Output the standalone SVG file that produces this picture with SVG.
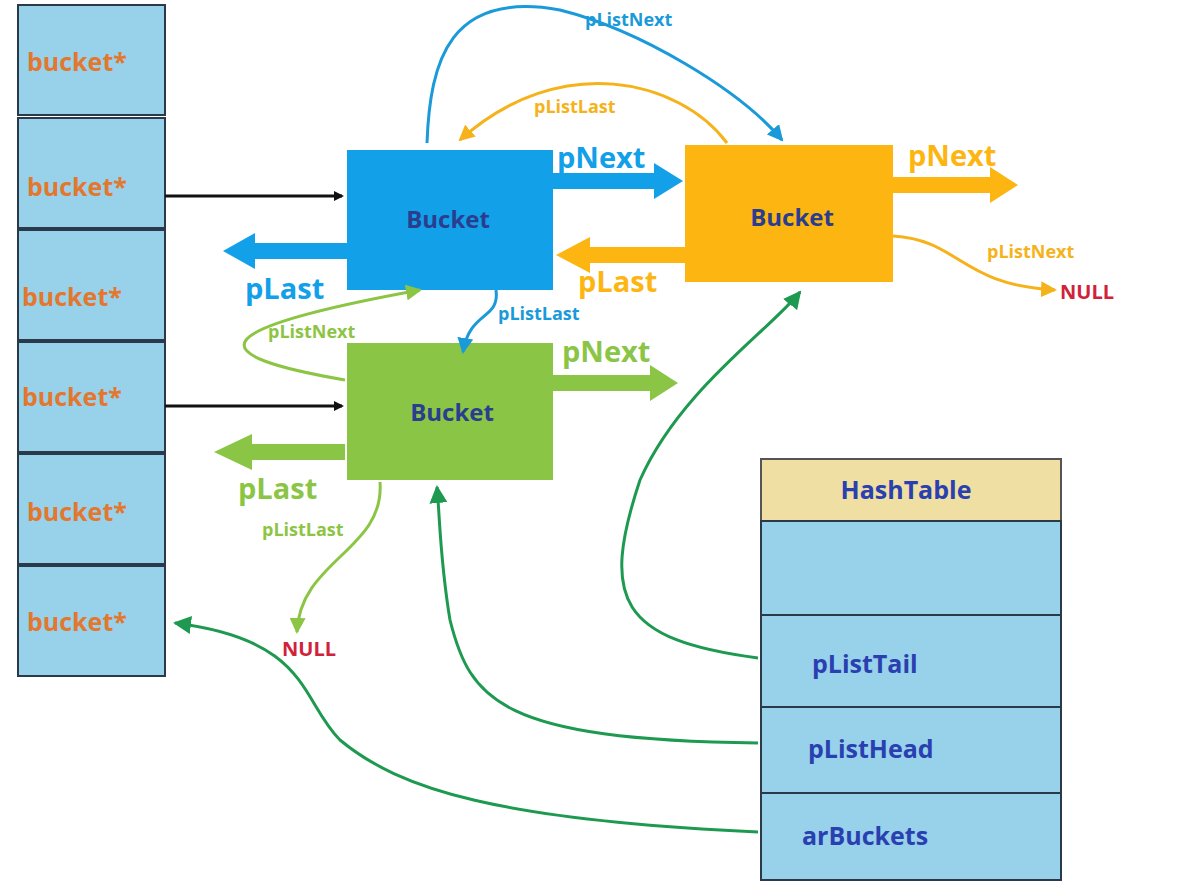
<svg xmlns="http://www.w3.org/2000/svg" width="1177" height="892" viewBox="0 0 1177 892">
<style>
.cell{fill:#97d1ea;stroke:#2a3a4a;stroke-width:2}
.bl{font-family:"Open Sans","Liberation Sans",sans-serif;font-weight:bold;font-size:25px;fill:#e4772e}
.bk{font-family:"Open Sans","Liberation Sans",sans-serif;font-weight:bold;font-size:24px;fill:#2a3d8f;text-anchor:middle}
.ht{font-family:"Open Sans","Liberation Sans",sans-serif;font-weight:bold;font-size:25px;fill:#2a3fb0}
.big{font-family:"Open Sans","Liberation Sans",sans-serif;font-weight:bold;font-size:29px}
.sm{font-family:"Open Sans","Liberation Sans",sans-serif;font-weight:bold;font-size:18px}
.nul{font-family:"Open Sans","Liberation Sans",sans-serif;font-weight:bold;font-size:20px;fill:#d0223a}
.ln{fill:none;stroke-width:3}
</style>
<defs>
<marker id="ab" markerWidth="10" markerHeight="10" refX="8" refY="5" orient="auto" markerUnits="userSpaceOnUse" viewBox="0 0 10 10"><path d="M0,0L10,5L0,10z" fill="#111"/></marker>
<marker id="ablue" markerWidth="16" markerHeight="16" refX="14" refY="8" orient="auto" markerUnits="userSpaceOnUse" viewBox="0 0 16 16"><path d="M0,0L16,8L0,16z" fill="#1a9ad8"/></marker>
<marker id="aor" markerWidth="16" markerHeight="16" refX="14" refY="8" orient="auto" markerUnits="userSpaceOnUse" viewBox="0 0 16 16"><path d="M0,0L16,8L0,16z" fill="#f5b21a"/></marker>
<marker id="agr" markerWidth="16" markerHeight="16" refX="14" refY="8" orient="auto" markerUnits="userSpaceOnUse" viewBox="0 0 16 16"><path d="M0,0L16,8L0,16z" fill="#8cc444"/></marker>
<marker id="adg" markerWidth="18" markerHeight="18" refX="16" refY="9" orient="auto" markerUnits="userSpaceOnUse" viewBox="0 0 18 18"><path d="M0,0L18,9L0,18z" fill="#1e9a50"/></marker>
</defs>
<rect width="1177" height="892" fill="#fff"/>

<g id="bucket-array">
<rect class="cell" x="18" y="5" width="147" height="110"/>
<rect class="cell" x="18" y="118" width="147" height="110"/>
<rect class="cell" x="18" y="230" width="147" height="110"/>
<rect class="cell" x="18" y="342" width="147" height="110"/>
<rect class="cell" x="18" y="454" width="147" height="110"/>
<rect class="cell" x="18" y="566" width="147" height="110"/>
<text class="bl" x="27" y="71">bucket*</text>
<text class="bl" x="27" y="196">bucket*</text>
<text class="bl" x="22" y="306">bucket*</text>
<text class="bl" x="22" y="406">bucket*</text>
<text class="bl" x="27" y="521">bucket*</text>
<text class="bl" x="27" y="631">bucket*</text>
</g>

<g id="bucket-blue"><rect x="347" y="150" width="206" height="140" fill="#12a0e8"/><text class="bk" x="448" y="228">Bucket</text></g>
<g id="bucket-orange"><rect x="685" y="145" width="208" height="137" fill="#fdb512"/><text class="bk" x="792" y="226" fill="#3a3a6a">Bucket</text></g>
<g id="bucket-green"><rect x="347" y="343" width="206" height="137" fill="#8bc545"/><text class="bk" x="452" y="421">Bucket</text></g>

<g id="hashtable">
<rect x="761" y="459" width="300" height="62" fill="#efdfa2" stroke="#555" stroke-width="2"/>
<rect class="cell" x="761" y="521" width="300" height="94"/>
<rect class="cell" x="761" y="615" width="300" height="92"/>
<rect class="cell" x="761" y="707" width="300" height="86"/>
<rect class="cell" x="761" y="793" width="300" height="87"/>
<text class="ht" x="906" y="499" text-anchor="middle">HashTable</text>
<text class="ht" x="812" y="673">pListTail</text>
<text class="ht" x="808" y="758">pListHead</text>
<text class="ht" x="802" y="845">arBuckets</text>
</g>

<g id="connectors">
<path class="ln" d="M165,196H342" stroke="#111" stroke-width="2" marker-end="url(#ab)"/>
<path class="ln" d="M165,406H342" stroke="#111" stroke-width="2" marker-end="url(#ab)"/>
<!-- fat arrows -->
<path d="M553,173H654V163L683,181L654,199V189H553z" fill="#12a0e8"/>
<path d="M347,243H255V233L223,251L255,269V259H347z" fill="#12a0e8"/>
<path d="M685,247H590V237L556,255L590,273V263H685z" fill="#fdb512"/>
<path d="M893,177H990V167L1018,185L990,203V193H893z" fill="#fdb512"/>
<path d="M553,375H650V365L678,383L650,401V391H553z" fill="#8bc545"/>
<path d="M345,444H252V434L214,452L252,470V460H345z" fill="#8bc545"/>
<text class="big" x="557" y="168" fill="#12a0e8">pNext</text>
<text class="big" x="245" y="299" fill="#12a0e8">pLast</text>
<text class="big" x="578" y="292" fill="#fdb512">pLast</text>
<text class="big" x="908" y="166" fill="#fdb512">pNext</text>
<text class="big" x="562" y="362" fill="#8bc545">pNext</text>
<text class="big" x="238" y="499" fill="#8bc545">pLast</text>
<!-- thin curves -->
<path class="ln" d="M427,143C430,60 450,-10 560,10C640,30 740,90 782,140" stroke="#1a9ad8" stroke-width="2.5" marker-end="url(#ablue)"/>
<text class="sm" x="585" y="26" fill="#1a9ad8">pListNext</text>
<path class="ln" d="M727,143C680,80 560,50 460,140" stroke="#f5b21a" stroke-width="2.5" marker-end="url(#aor)"/>
<text class="sm" x="534" y="113" fill="#f5b21a">pListLast</text>
<path class="ln" d="M496,290C500,320 470,310 463,352" stroke="#1a9ad8" stroke-width="2.5" marker-end="url(#ablue)"/>
<text class="sm" x="498" y="320" fill="#1a9ad8">pListLast</text>
<path class="ln" d="M345,380C200,355 200,330 420,290" stroke="#8cc444" stroke-width="2.5" marker-end="url(#agr)"/>
<text class="sm" x="268" y="338" fill="#8cc444">pListNext</text>
<path class="ln" d="M893,236C960,240 960,285 1055,290" stroke="#f5b21a" stroke-width="2.5" marker-end="url(#aor)"/>
<text class="sm" x="987" y="258" fill="#f5b21a">pListNext</text>
<text class="nul" x="1060" y="299">NULL</text>
<path class="ln" d="M380,482C385,550 300,560 297,632" stroke="#8cc444" stroke-width="2.5" marker-end="url(#agr)"/>
<text class="sm" x="262" y="536" fill="#8cc444">pListLast</text>
<text class="nul" x="282" y="656">NULL</text>
<!-- hashtable pointers -->
<path class="ln" d="M758,658C620,640 600,600 640,480C680,390 770,330 800,292" stroke="#1e9a50" marker-end="url(#adg)"/>
<path class="ln" d="M758,743C500,740 470,700 450,620C440,560 440,520 437,487" stroke="#1e9a50" marker-end="url(#adg)"/>
<path class="ln" d="M758,832C500,820 400,790 340,740C300,700 310,640 175,623" stroke="#1e9a50" marker-end="url(#adg)"/>
</g>
</svg>
